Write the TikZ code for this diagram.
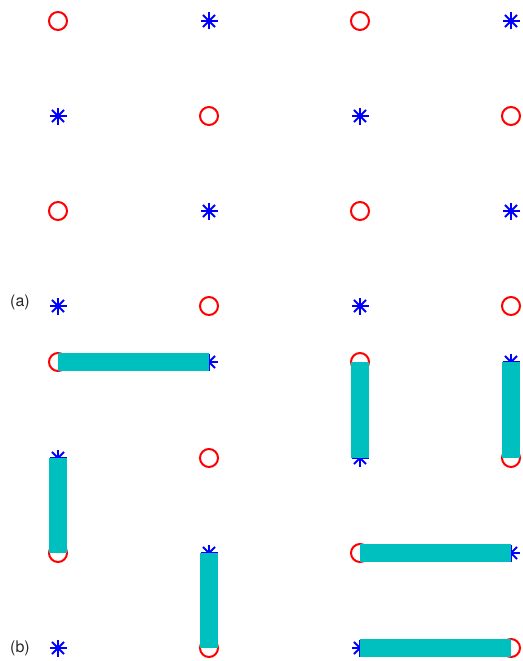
\documentclass[tikz,border=0pt]{standalone}
\usepackage{fontspec}
\setmainfont{TeX Gyre Heros}
\usetikzlibrary{positioning}
\definecolor{ringred}{RGB}{255, 0, 0}
\definecolor{starblue}{RGB}{0, 0, 255}
\definecolor{barcyan}{RGB}{0, 191, 191}
\definecolor{labelgray}{RGB}{40, 40, 40}

\begin{document}
\begin{tikzpicture}[x=1pt, y=-1pt,
	ring/.style={circle, draw=ringred, line width=2pt, minimum size=18pt, inner sep=0pt},
	aster/.style={circle, minimum size=18pt, inner sep=0pt,
		path picture={
			\foreach \ang in {0,45,90,135}
				\draw[starblue, line width=1.8pt]
					(path picture bounding box.center) +(\ang:8.5) -- +(\ang+180:8.5);
		}},
	bar/.style={barcyan, line width=18pt, line cap=butt},
	tag/.style={font=\fontsize{16}{18}\selectfont, text=labelgray}
	]
	\useasboundingbox (0,0) rectangle (522,661);
	% panel (a)
	\foreach \r/\y in {1/21,2/116,3/211,4/306}
		\foreach \c/\x in {1/58,2/209,3/360,4/511} {
			\pgfmathtruncatemacro\k{mod(\r+\c,2)}
			\ifnum\k=0 \node[ring] (a\r\c) at (\x,\y) {};
			\else \node[aster] (a\r\c) at (\x,\y) {}; \fi
		}
	% panel (b)
	\foreach \r/\y in {1/362,2/458,3/553,4/648}
		\foreach \c/\x in {1/58,2/209,3/360,4/511} {
			\pgfmathtruncatemacro\k{mod(\r+\c,2)}
			\ifnum\k=0 \node[ring] (b\r\c) at (\x,\y) {};
			\else \node[aster] (b\r\c) at (\x,\y) {}; \fi
		}
	% pairings
	\draw[bar] (b11.center) -- (b12.center);
	\draw[bar] (b21.center) -- (b31.center);
	\draw[bar] (b32.center) -- (b42.center);
	\draw[bar] (b13.center) -- (b23.center);
	\draw[bar] (b14.center) -- (b24.center);
	\draw[bar] (b33.center) -- (b34.center);
	\draw[bar] (b43.center) -- (b44.center);
	\node[tag] (taga) at (20,302) {(a)};
	\node[tag] (tagb) at (20,648) {(b)};
\end{tikzpicture}
\end{document}
